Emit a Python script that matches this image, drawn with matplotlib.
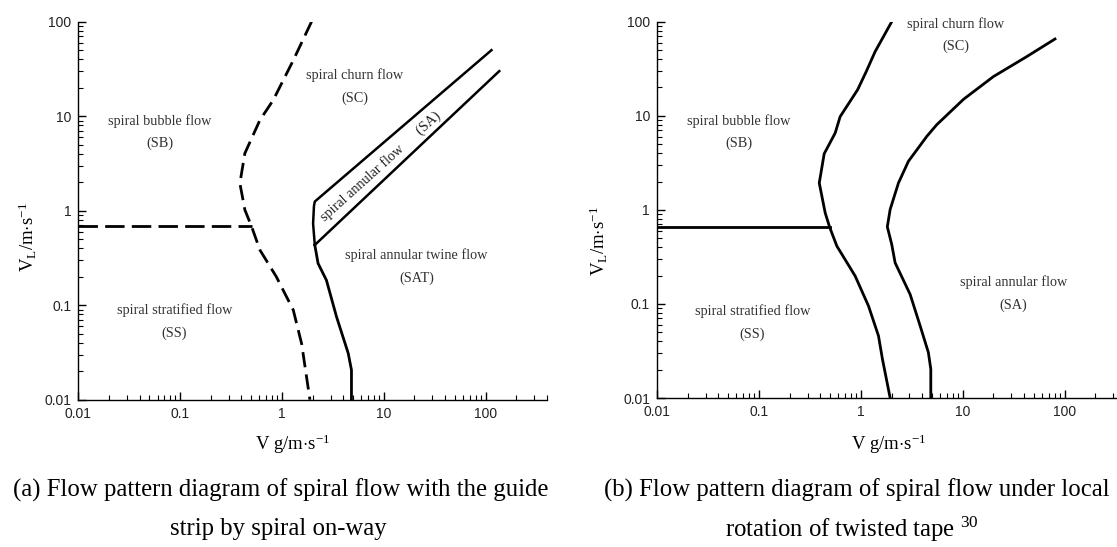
import matplotlib
matplotlib.use("Agg")
import matplotlib.pyplot as plt
from matplotlib.ticker import LogLocator, FixedFormatter, FixedLocator, NullFormatter

plt.rcParams["mathtext.fontset"] = "custom"
plt.rcParams["mathtext.rm"] = "Liberation Serif"
plt.rcParams["mathtext.it"] = "Liberation Serif:italic"

# ---- (a) guide strip, spiral on-way ----
a_dash_x = [1.95, 1.29, 0.82, 0.607, 0.432, 0.386, 0.432, 0.503, 0.607, 0.88, 1.29, 1.56, 1.88]
a_dash_y = [100, 39, 14.8, 9.1, 4.05, 1.95, 1.02, 0.68, 0.384, 0.20, 0.089, 0.039, 0.01]
a_hdash_x = [0.01, 0.503]
a_hdash_y = [0.69, 0.69]
a_low_x = [4.81, 4.81, 4.47, 3.43, 2.73, 2.26, 2.10]
a_low_y = [0.01, 0.0206, 0.031, 0.0755, 0.184, 0.277, 0.434]
a_up_x = [2.10, 2.02, 2.06, 2.10, 114]
a_up_y = [0.434, 0.73, 1.12, 1.25, 50]
a_diag_x = [2.10, 136]
a_diag_y = [0.434, 30]

a_labels = ["spiral churn flow\n(SC)", "spiral bubble flow\n(SB)",
            "spiral annular twine flow\n(SAT)", "spiral stratified flow\n(SS)"]
a_label_x = [5.2, 0.0632, 20.9, 0.0875]
a_label_y = [20.5, 6.8, 0.258, 0.0665]

# ---- (b) twisted tape ----
b_left_x = [2.01, 1.38, 1.13, 0.93, 0.627, 0.56, 0.437, 0.391, 0.447, 0.493, 0.582, 0.88, 1.19, 1.49, 1.63, 1.94]
b_left_y = [100, 48, 29.5, 18.9, 9.8, 6.55, 3.95, 1.93, 0.93, 0.66, 0.412, 0.198, 0.095, 0.0458, 0.0259, 0.01]
b_h_x = [0.01, 0.493]
b_h_y = [0.66, 0.66]
b_right_x = [80.4, 42.4, 20.0, 10.2, 5.56, 4.44, 2.93, 2.34, 1.94, 1.82, 2.01, 2.17, 3.05, 3.82, 4.6, 4.86, 4.86]
b_right_y = [65.5, 42.5, 26.1, 15.0, 8.04, 6.04, 3.28, 1.93, 1.01, 0.66, 0.43, 0.274, 0.126, 0.0585, 0.0305, 0.0203, 0.01]

b_labels = ["spiral churn flow\n(SC)", "spiral bubble flow\n(SB)",
            "spiral annular flow\n(SA)", "spiral stratified flow\n(SS)"]
b_label_x = [8.6, 0.0632, 31.4, 0.0867]
b_label_y = [72, 6.7, 0.128, 0.063]

tick_vals = [0.01, 0.1, 1, 10, 100]
tick_text = ["0.01", "0.1", "1", "10", "100"]

serif = "Liberation Serif"
sans = "Liberation Sans"


def style_axes(ax):
    ax.set_xscale("log")
    ax.set_yscale("log")
    ax.set_xlim(0.01, 400)
    ax.set_ylim(0.01, 100)
    ax.spines["top"].set_visible(False)
    ax.spines["right"].set_visible(False)
    for s in ("left", "bottom"):
        ax.spines[s].set_linewidth(1.0)
    ax.xaxis.set_major_locator(FixedLocator(tick_vals))
    ax.xaxis.set_major_formatter(FixedFormatter(tick_text))
    ax.yaxis.set_major_locator(FixedLocator(tick_vals))
    ax.yaxis.set_major_formatter(FixedFormatter(tick_text))
    ax.xaxis.set_minor_locator(LogLocator(base=10, subs=range(2, 10), numticks=20))
    ax.yaxis.set_minor_locator(LogLocator(base=10, subs=range(2, 10), numticks=20))
    ax.xaxis.set_minor_formatter(NullFormatter())
    ax.yaxis.set_minor_formatter(NullFormatter())
    ax.tick_params(which="major", direction="in", length=6, width=1.0, labelsize=10, pad=5)
    ax.tick_params(which="minor", direction="in", length=3.5, width=0.8)
    for lab in ax.get_xticklabels() + ax.get_yticklabels():
        lab.set_fontfamily(sans)
        lab.set_color("#222222")
    ax.patch.set_visible(False)


fig = plt.figure(figsize=(11.17, 5.47), dpi=100)
ax1 = fig.add_axes([78.3 / 1117, 1 - 399.7 / 547, 468.7 / 1117, 378 / 547])
ax2 = fig.add_axes([657 / 1117, 1 - 398 / 547, 469 / 1117, 376.3 / 547])
style_axes(ax1)
style_axes(ax2)

dash = (0, (5.5, 2.6))
ax1.plot(a_dash_x, a_dash_y, color="black", lw=2.0, linestyle=dash)
ax1.plot(a_hdash_x, a_hdash_y, color="black", lw=2.0, linestyle=(0, (7, 2.6)))
ax1.plot(a_low_x, a_low_y, color="black", lw=2.0, solid_joinstyle="round")
ax1.plot(a_up_x, a_up_y, color="black", lw=1.8, solid_joinstyle="round")
ax1.plot(a_diag_x, a_diag_y, color="black", lw=1.8)
for t, x, y in zip(a_labels, a_label_x, a_label_y):
    ax1.text(x, y, t, ha="center", va="center", family=serif, fontsize=10.3,
             color="#333333", linespacing=1.9)
ax1.text(9.3, 2.93, "spiral annular flow      (SA)", ha="center", va="center",
         family=serif, fontsize=10.3, color="#222222", rotation=42,
         rotation_mode="anchor")

ax2.plot(b_left_x, b_left_y, color="black", lw=2.0, solid_joinstyle="round")
ax2.plot(b_h_x, b_h_y, color="black", lw=2.0)
ax2.plot(b_right_x, b_right_y, color="black", lw=2.0, solid_joinstyle="round")
for t, x, y in zip(b_labels, b_label_x, b_label_y):
    ax2.text(x, y, t, ha="center", va="center", family=serif, fontsize=10.3,
             color="#333333", linespacing=1.9)

xlab = r"V g/m$\cdot$s$^{\mathrm{-1}}$"
ylab = r"V$_{\mathrm{L}}$/m$\cdot$s$^{\mathrm{-1}}$"
fig.text(293 / 1117, 1 - 444 / 547, xlab, ha="center", va="center", family=serif, fontsize=13.5)
fig.text(889 / 1117, 1 - 444 / 547, xlab, ha="center", va="center", family=serif, fontsize=13.5)
fig.text(28 / 1117, 1 - 237 / 547, ylab, ha="center", va="center", family=serif,
         fontsize=13.5, rotation=90)
fig.text(599 / 1117, 1 - 241 / 547, ylab, ha="center", va="center", family=serif,
         fontsize=13.5, rotation=90)

cap_size = 17.8
fig.text(281 / 1117, 1 - 490 / 547, "(a) Flow pattern diagram of spiral flow with the guide",
         ha="center", va="center", family=serif, fontsize=cap_size)
fig.text(278 / 1117, 1 - 529 / 547, "strip by spiral on-way",
         ha="center", va="center", family=serif, fontsize=cap_size)
fig.text(857 / 1117, 1 - 490 / 547, "(b) Flow pattern diagram of spiral flow under local",
         ha="center", va="center", family=serif, fontsize=cap_size)
fig.text(852 / 1117, 1 - 529 / 547, r"rotation of twisted tape $^{30}$",
         ha="center", va="center", family=serif, fontsize=cap_size)

fig.savefig("out.png", dpi=100)
